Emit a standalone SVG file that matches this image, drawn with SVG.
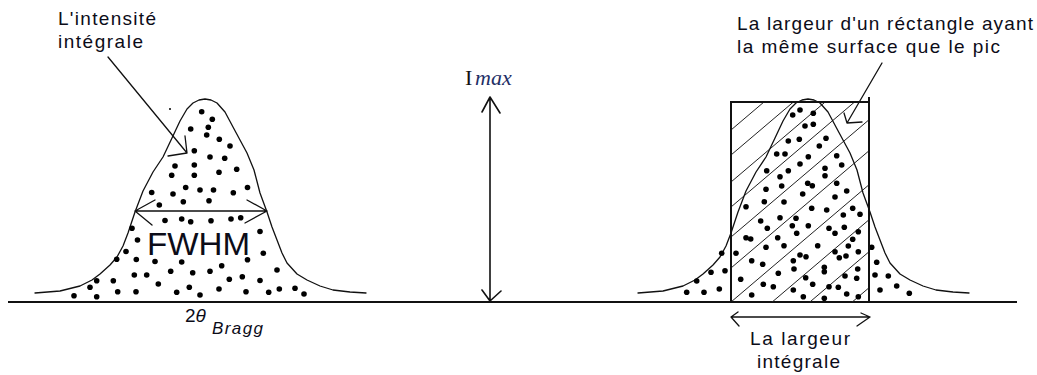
<svg xmlns="http://www.w3.org/2000/svg" xmlns:xlink="http://www.w3.org/1999/xlink" width="1037" height="375" viewBox="0 0 1037 375">
<style>
.ln{fill:none;stroke:#111;stroke-width:1.3;stroke-linejoin:round;stroke-linecap:round}
.thick{fill:none;stroke:#111;stroke-width:2}
.hatch{fill:none;stroke:#222;stroke-width:1}
.dots circle{fill:#000}
.lbl{font-family:"Liberation Sans",Arial,sans-serif;font-size:19px;fill:#0c0c18}
</style>
<defs>
<path id="curve" d="M35,293 L60,291 L80,286 L92,280 L100,274 L110,265 L117,257 L123,246 L128,233 L135,212 L143,191 L153,172 L163,157 L172,138 L180,121 L187,109 L193,103 L199,100 L205,99 L211,100 L217,103 L225,112 L233,127 L240,140 L247,153 L254,170 L260,193 L267,212 L272,227 L277,240 L282,253 L287,263 L297,274 L307,280 L320,286 L333,290 L350,292 L366,293"/>
<clipPath id="rectclip"><rect x="731" y="102" width="138" height="200"/></clipPath>
</defs>
<rect width="1037" height="375" fill="#fff"/>

<g id="axis">
<line x1="8" y1="302" x2="1017" y2="302" class="thick"/>
</g>

<g id="peak-left">
<use xlink:href="#curve" class="ln"/>
<g class="dots">
<circle cx="170" cy="109" r="1"/>
<circle cx="201.7" cy="111.7" r="2.8"/><circle cx="212.3" cy="119.3" r="2.8"/><circle cx="190.7" cy="129" r="2.8"/><circle cx="208.3" cy="127.3" r="2.8"/><circle cx="206.7" cy="135" r="2.8"/><circle cx="219.3" cy="139.3" r="2.8"/><circle cx="230" cy="146" r="2.8"/><circle cx="194.3" cy="150.7" r="2.8"/><circle cx="210" cy="157" r="2.8"/><circle cx="224.7" cy="158.3" r="2.8"/><circle cx="175" cy="166" r="2.8"/><circle cx="194.3" cy="165" r="2.8"/><circle cx="236.7" cy="169.3" r="2.8"/><circle cx="171.7" cy="175.3" r="2.8"/><circle cx="194.3" cy="175.3" r="2.8"/><circle cx="219" cy="172.3" r="2.8"/>
<circle cx="185.7" cy="187.5" r="2.8"/><circle cx="200" cy="190" r="2.8"/><circle cx="213.5" cy="190" r="2.8"/><circle cx="247.5" cy="187.5" r="2.8"/><circle cx="151.7" cy="192.5" r="2.8"/><circle cx="173" cy="194" r="2.8"/><circle cx="233.3" cy="192.7" r="2.8"/>
<circle cx="159.3" cy="205" r="2.8"/><circle cx="183.3" cy="201.7" r="2.8"/><circle cx="209" cy="200.7" r="2.8"/>
<circle cx="165" cy="220.5" r="2.8"/><circle cx="181.7" cy="219" r="2.8"/><circle cx="190.7" cy="221.7" r="2.8"/><circle cx="211" cy="220.7" r="2.8"/><circle cx="231" cy="219" r="2.8"/><circle cx="240.7" cy="217.7" r="2.8"/>
<circle cx="132" cy="228.3" r="2.8"/><circle cx="260" cy="231.5" r="2.8"/><circle cx="137.5" cy="240" r="2.8"/><circle cx="126" cy="251.5" r="2.8"/><circle cx="263.3" cy="253.3" r="2.8"/>
<circle cx="116.7" cy="259.3" r="2.8"/><circle cx="136.3" cy="259.5" r="2.8"/><circle cx="155" cy="261.5" r="2.8"/><circle cx="181.7" cy="262" r="2.8"/><circle cx="221.7" cy="265.7" r="2.8"/><circle cx="247.5" cy="259.7" r="2.8"/>
<circle cx="134.3" cy="275" r="2.8"/><circle cx="146.7" cy="275" r="2.8"/><circle cx="170.7" cy="271.3" r="2.8"/><circle cx="192.7" cy="272.7" r="2.8"/><circle cx="210" cy="271.3" r="2.8"/><circle cx="229.3" cy="279.3" r="2.8"/><circle cx="242.3" cy="276.7" r="2.8"/><circle cx="260" cy="280.5" r="2.8"/><circle cx="277" cy="270" r="2.8"/>
<circle cx="90" cy="287.3" r="2.8"/><circle cx="96.7" cy="280.7" r="2.8"/><circle cx="113.3" cy="280.7" r="2.8"/><circle cx="74" cy="295.7" r="2.8"/><circle cx="96.7" cy="296.7" r="2.8"/><circle cx="117.7" cy="291.7" r="2.8"/><circle cx="136" cy="291.7" r="2.8"/><circle cx="158.3" cy="284" r="2.8"/><circle cx="176.7" cy="292.3" r="2.8"/><circle cx="189.3" cy="287.3" r="2.8"/><circle cx="200" cy="295" r="2.8"/><circle cx="219" cy="289" r="2.8"/><circle cx="246" cy="291.7" r="2.8"/><circle cx="268.7" cy="292.3" r="2.8"/><circle cx="279.3" cy="289" r="2.8"/><circle cx="295" cy="288.3" r="2.8"/><circle cx="304" cy="294" r="2.8"/>
</g>
<text class="lbl" x="147" y="255" style="font-size:32px" textLength="103" lengthAdjust="spacingAndGlyphs">FWHM</text>
<text class="lbl" x="185" y="321.7"><tspan>2</tspan><tspan style="font-style:italic">θ</tspan></text>
<text class="lbl" x="212" y="334" style="font-size:17px;font-style:italic" textLength="51" lengthAdjust="spacing">Bragg</text>
</g>

<g id="peak-right">
<g clip-path="url(#rectclip)" class="hatch">
<line x1="731" y1="130" x2="900" y2="-13.6"/>
<line x1="731" y1="155" x2="900" y2="11.4"/>
<line x1="731" y1="182" x2="900" y2="38.4"/>
<line x1="731" y1="207" x2="900" y2="63.4"/>
<line x1="731" y1="237" x2="900" y2="93.4"/>
<line x1="731" y1="268" x2="900" y2="124.4"/>
<line x1="731" y1="302" x2="900" y2="158.4"/>
<line x1="731" y1="337" x2="900" y2="193.4"/>
<line x1="731" y1="369" x2="900" y2="225.4"/>
<line x1="731" y1="405" x2="900" y2="261.4"/>
</g>
<use xlink:href="#curve" class="ln" transform="translate(603,0)"/>
<g class="dots">
<circle cx="800" cy="110" r="2.8"/><circle cx="792.7" cy="115" r="2.8"/><circle cx="813.3" cy="113.3" r="2.8"/><circle cx="805" cy="126" r="2.8"/><circle cx="813.3" cy="124.3" r="2.8"/><circle cx="788.3" cy="141" r="2.8"/><circle cx="799.3" cy="139.3" r="2.8"/><circle cx="826" cy="138.3" r="2.8"/><circle cx="819.3" cy="146" r="2.8"/><circle cx="776.7" cy="154" r="2.8"/><circle cx="785" cy="154" r="2.8"/><circle cx="808.3" cy="156.7" r="2.8"/><circle cx="836.7" cy="155.7" r="2.8"/><circle cx="800" cy="164" r="2.8"/><circle cx="841.7" cy="165" r="2.8"/><circle cx="766.7" cy="170.7" r="2.8"/><circle cx="780" cy="176.7" r="2.8"/><circle cx="788.3" cy="170.7" r="2.8"/><circle cx="825" cy="168.3" r="2.8"/><circle cx="825" cy="175.7" r="2.8"/><circle cx="807.7" cy="183.3" r="2.8"/><circle cx="812.3" cy="185.7" r="2.8"/><circle cx="766" cy="189.3" r="2.8"/><circle cx="781.7" cy="186" r="2.8"/><circle cx="836.7" cy="183.3" r="2.8"/><circle cx="802.7" cy="194" r="2.8"/><circle cx="846.7" cy="191" r="2.8"/><circle cx="764.3" cy="201.7" r="2.8"/><circle cx="784" cy="202" r="2.8"/><circle cx="835" cy="197" r="2.8"/>
<circle cx="746" cy="206.7" r="2.8"/><circle cx="811.7" cy="208.3" r="2.8"/><circle cx="826.7" cy="210" r="2.8"/><circle cx="852.7" cy="208.3" r="2.8"/><circle cx="860" cy="214.3" r="2.8"/><circle cx="843.3" cy="215" r="2.8"/><circle cx="780" cy="217.7" r="2.8"/><circle cx="760.7" cy="221" r="2.8"/><circle cx="796" cy="218.3" r="2.8"/><circle cx="767.3" cy="228.3" r="2.8"/><circle cx="792.3" cy="225.7" r="2.8"/><circle cx="808.3" cy="225.7" r="2.8"/><circle cx="829" cy="228.3" r="2.8"/><circle cx="844.3" cy="227.3" r="2.8"/><circle cx="858.3" cy="231.7" r="2.8"/><circle cx="835" cy="233.3" r="2.8"/><circle cx="746" cy="237.7" r="2.8"/><circle cx="750.7" cy="239" r="2.8"/><circle cx="777.7" cy="237.7" r="2.8"/><circle cx="796.7" cy="233.3" r="2.8"/><circle cx="852.7" cy="239.3" r="2.8"/>
<circle cx="766" cy="247.3" r="2.8"/><circle cx="784" cy="245.7" r="2.8"/><circle cx="817.7" cy="245.7" r="2.8"/><circle cx="835" cy="251.7" r="2.8"/><circle cx="848.3" cy="246" r="2.8"/><circle cx="871.7" cy="247.3" r="2.8"/><circle cx="736" cy="253.3" r="2.8"/><circle cx="800" cy="255" r="2.8"/><circle cx="806" cy="256.7" r="2.8"/><circle cx="839.3" cy="257.7" r="2.8"/><circle cx="846" cy="256" r="2.8"/><circle cx="858.3" cy="251.7" r="2.8"/><circle cx="721.7" cy="253.3" r="2.8"/><circle cx="751.7" cy="260.7" r="2.8"/><circle cx="762.7" cy="264.3" r="2.8"/><circle cx="793.3" cy="260.7" r="2.8"/><circle cx="824.3" cy="267.3" r="2.8"/><circle cx="824.3" cy="271.7" r="2.8"/><circle cx="857.7" cy="269" r="2.8"/><circle cx="876.7" cy="262.3" r="2.8"/>
<circle cx="725" cy="270.7" r="2.8"/><circle cx="711" cy="272.3" r="2.8"/><circle cx="740.7" cy="279.3" r="2.8"/><circle cx="778.3" cy="273.3" r="2.8"/><circle cx="794" cy="269" r="2.8"/><circle cx="805.7" cy="277.7" r="2.8"/><circle cx="845" cy="276" r="2.8"/><circle cx="856.7" cy="278.3" r="2.8"/><circle cx="875" cy="275" r="2.8"/><circle cx="888.3" cy="276" r="2.8"/><circle cx="696.7" cy="281" r="2.8"/><circle cx="763.3" cy="284.3" r="2.8"/><circle cx="773.3" cy="286.7" r="2.8"/><circle cx="812.7" cy="284.3" r="2.8"/><circle cx="829" cy="286.7" r="2.8"/><circle cx="838.3" cy="287.3" r="2.8"/>
<circle cx="686.7" cy="292.3" r="2.8"/><circle cx="704" cy="292.3" r="2.8"/><circle cx="719.3" cy="289" r="2.8"/><circle cx="793.3" cy="290" r="2.8"/><circle cx="751.7" cy="295" r="2.8"/><circle cx="803.3" cy="296.7" r="2.8"/><circle cx="824.3" cy="298.3" r="2.8"/><circle cx="846.7" cy="294" r="2.8"/><circle cx="858.3" cy="296.7" r="2.8"/><circle cx="880" cy="290" r="2.8"/><circle cx="896.7" cy="286" r="2.8"/><circle cx="909.3" cy="293.3" r="2.8"/>
</g>
<path d="M731,302 V102 H869 M869,97 V302" class="thick"/>
</g>

<g id="imax">
<text x="465" y="85" style="font-family:'Liberation Serif','Times New Roman',serif;font-size:22px;fill:#111">I</text>
<text x="475" y="85" style="font-family:'Liberation Serif','Times New Roman',serif;font-size:22px;font-style:italic;fill:#1f2f66">max</text>
</g>

<g id="label-intensite">
<text class="lbl" x="58" y="25" textLength="98" lengthAdjust="spacing">L'intensité</text>
<text class="lbl" x="58" y="48" textLength="85" lengthAdjust="spacing">intégrale</text>
</g>

<g id="label-rectangle">
<text class="lbl" x="737" y="30" textLength="296" lengthAdjust="spacing">La largeur d'un réctangle ayant</text>
<text class="lbl" x="737" y="53" textLength="263" lengthAdjust="spacing">la même surface que le pic</text>
</g>

<g id="label-largeur">
<text class="lbl" x="750" y="345" textLength="100" lengthAdjust="spacing">La largeur</text>
<text class="lbl" x="757" y="368" textLength="83" lengthAdjust="spacing">intégrale</text>
</g>

<g id="connectors" class="ln">
<path d="M108,57 L187,153 M168,156 L187,153 L185,136"/>
<path d="M135,211 H267 M155,200 L135,211 L152,225 M247,200 L267,211 L245,223"/>
<path d="M490,97 V301 M482,112 L490,97 L500,113 M482,290 L490,301 L501,291" style="stroke-width:1.6"/>
<path d="M882,63 L847,123 M844,113 L847,123 L862,122"/>
<path d="M731,317 H870 M738,312 L731,317 L739,326 M861,313 L870,317 L857,326"/>
</g>
</svg>
